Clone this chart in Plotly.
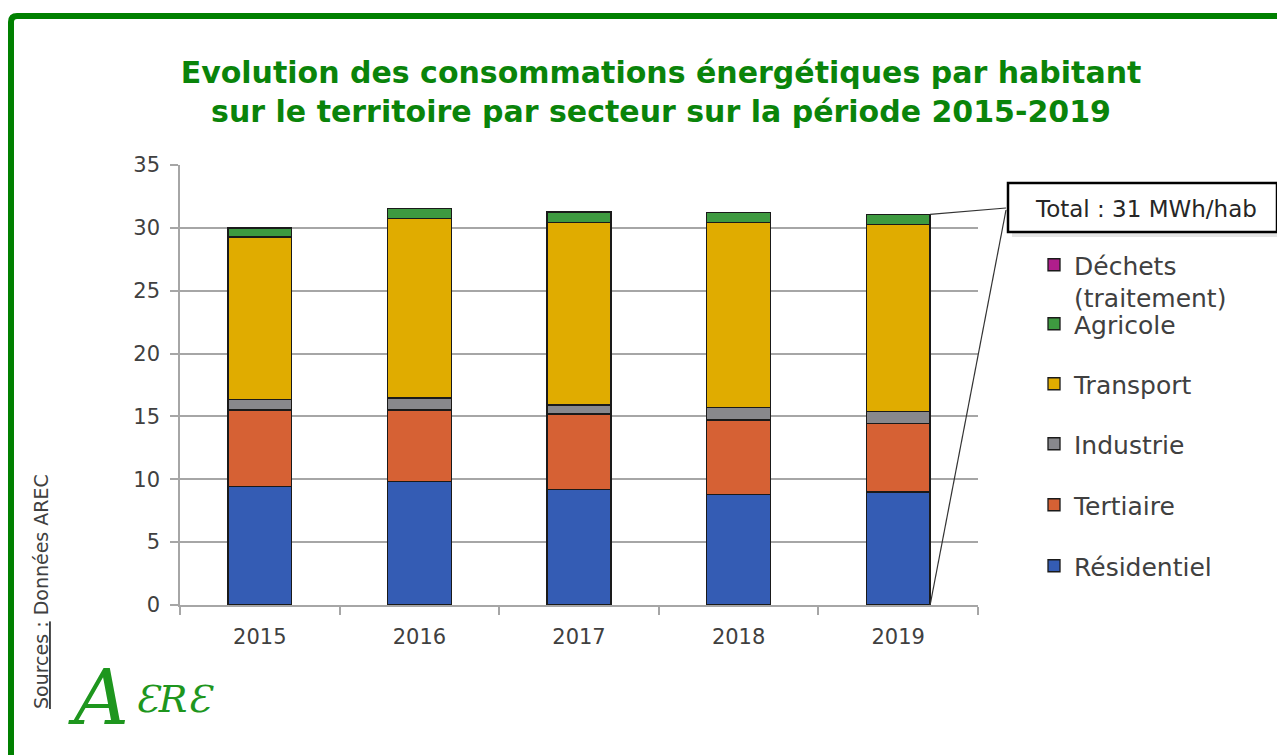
import plotly.graph_objects as go

# ---------------- data ----------------
years = ["2015", "2016", "2017", "2018", "2019"]
residentiel = [9.40, 9.85, 9.20, 8.80, 9.00]
tertiaire = [6.10, 5.65, 6.00, 5.92, 5.45]
industrie = [0.86, 0.97, 0.70, 0.98, 0.95]
transport = [12.92, 14.26, 14.55, 14.75, 14.86]
agricole = [0.69, 0.80, 0.79, 0.77, 0.80]
dechets = [0.01, 0.01, 0.01, 0.01, 0.01]

series_names = ["Résidentiel", "Tertiaire", "Industrie", "Transport", "Agricole", "Déchets<br>(traitement)"]
series_values = [residentiel, tertiaire, industrie, transport, agricole, dechets]
series_colors = ["#345CB4", "#D66134", "#88888C", "#E0AC00", "#3E9A40", "#B01E8C"]
y_ticks = [0, 5, 10, 15, 20, 25, 30, 35]
callout_text = "Total : 31 MWh/hab"

# ---------------- layout geometry (reference pixels) ----------------
OFF = 8  # page body margin
W, H = 1285 - OFF, 755 - OFF
PLOT_L, PLOT_R, PLOT_T, PLOT_B = 180, 978, 165, 605  # in reference pixels
L, T = PLOT_L - OFF, PLOT_T - OFF
R, B = W - (PLOT_R - OFF), H - (PLOT_B - OFF)
PW, PH = PLOT_R - PLOT_L, PLOT_B - PLOT_T
FONT = "DejaVu Sans"
TXT = "#404040"


def px_x(px):
    return (px - PLOT_L) / PW


def px_y(py):
    return (PLOT_B - py) / PH


fig = go.Figure()
legend_centers = {"Déchets<br>(traitement)": 265, "Agricole": 324, "Transport": 384,
                  "Industrie": 444, "Tertiaire": 505, "Résidentiel": 566}

legends = {}
for i, (name, vals, col) in enumerate(zip(series_names, series_values, series_colors)):
    lg = f"legend{i+2}"
    fig.add_trace(go.Bar(
        x=years, y=vals, name=name, legend=lg,
        marker=dict(color=col, line=dict(color="#1a1a1a", width=1.3)),
    ))
    cy = legend_centers[name]
    if name.startswith("Déchets"):
        legends[lg] = dict(x=px_x(1034), y=px_y(cy - 23), xanchor="left", yanchor="top", valign="top")
    else:
        legends[lg] = dict(x=px_x(1034), y=px_y(cy), xanchor="left", yanchor="middle")
    legends[lg].update(font=dict(family=FONT, size=25, color=TXT), bgcolor="rgba(0,0,0,0)",
                       borderwidth=0, itemclick=False)

fig.update_layout(**legends)

# total of last bar for the callout
n = len(years)
total_last = sum(v[-1] for v in series_values)
bargap = 0.6
x_last_right = (n - 1) + (1 - bargap) / 2
xr = [-0.5, n - 0.5]
px_bar_right = PLOT_L + (x_last_right - xr[0]) / (xr[1] - xr[0]) * PW
y_range = [0, 35]
py_top = PLOT_B - total_last / y_range[1] * PH
py_bot = PLOT_B

shapes = [
    dict(type="path", xref="paper", yref="paper",
         path=f"M {px_x(1300)} {px_y(16)} L {px_x(17)} {px_y(16)} Q {px_x(11)} {px_y(16)} {px_x(11)} {px_y(22)} L {px_x(11)} {px_y(770)}",
         line=dict(color="#008000", width=6)),
    dict(type="rect", xref="paper", yref="paper", x0=px_x(1012), x1=px_x(1283), y0=px_y(187), y1=px_y(237),
         line=dict(width=0), fillcolor="rgba(0,0,0,0.10)", layer="below"),
    dict(type="line", xref="paper", yref="paper", x0=px_x(1006), y0=px_y(208), x1=px_x(px_bar_right), y1=px_y(py_top),
         line=dict(color="#333333", width=1.2)),
    dict(type="line", xref="paper", yref="paper", x0=px_x(1006), y0=px_y(210), x1=px_x(px_bar_right), y1=px_y(py_bot),
         line=dict(color="#333333", width=1.2)),
    dict(type="rect", xref="paper", yref="paper", x0=px_x(1008), x1=px_x(1277), y0=px_y(183), y1=px_y(232),
         line=dict(color="#000000", width=2.5), fillcolor="white"),
]

annotations = [
    dict(xref="paper", yref="paper", x=px_x(1146), y=px_y(209), text=callout_text, showarrow=False,
         font=dict(family=FONT, size=23, color="#262626"), xanchor="center", yanchor="middle"),
    dict(xref="paper", yref="paper", x=px_x(41), y=px_y(592), text="<u>Sources :</u> Données AREC",
         textangle=-90, showarrow=False, font=dict(family=FONT, size=19, color=TXT),
         xanchor="center", yanchor="middle"),
    dict(xref="paper", yref="paper", x=px_x(98), y=px_y(697), text="<i>A</i>", showarrow=False,
         font=dict(family="DejaVu Serif", size=76, color="#1E961E"), xanchor="center", yanchor="middle"),
    dict(xref="paper", yref="paper", x=px_x(133), y=px_y(699), text="<i>ƐRƐ</i>", showarrow=False,
         font=dict(family="DejaVu Serif", size=38, color="#1E961E"), xanchor="left", yanchor="middle"),
]

fig.update_layout(
    width=W, height=H,
    margin=dict(l=L, r=R, t=T, b=B, autoexpand=False),
    paper_bgcolor="white", plot_bgcolor="white",
    barmode="stack", bargap=bargap,
    title=dict(text="Evolution des consommations énergétiques par habitant<br>sur le territoire par secteur sur la période 2015-2019",
               x=(661 - OFF) / W, xref="container", xanchor="center", y=1 - (83 - OFF) / H, yref="container",
               yanchor="middle",
               font=dict(family=FONT, size=30, color="#0A840A", weight="bold")),
    xaxis=dict(range=xr, tickfont=dict(family=FONT, size=21, color=TXT), showline=True, linecolor="#A6A6A6",
               linewidth=1.5, ticks="outside", tickson="boundaries", ticklen=8, tickcolor="#A6A6A6",
               tickwidth=1.5, showgrid=False, fixedrange=True, ticklabelstandoff=12),
    yaxis=dict(range=y_range, tickvals=y_ticks, tickfont=dict(family=FONT, size=21, color=TXT),
               showline=True, linecolor="#A6A6A6", linewidth=1.5, ticks="outside", ticklen=8,
               tickcolor="#A6A6A6", tickwidth=1.5, showgrid=True, gridcolor="#A6A6A6", gridwidth=1.5,
               zeroline=False, ticklabelstandoff=6),
    shapes=shapes, annotations=annotations,
)

fig.write_html("out.html")
